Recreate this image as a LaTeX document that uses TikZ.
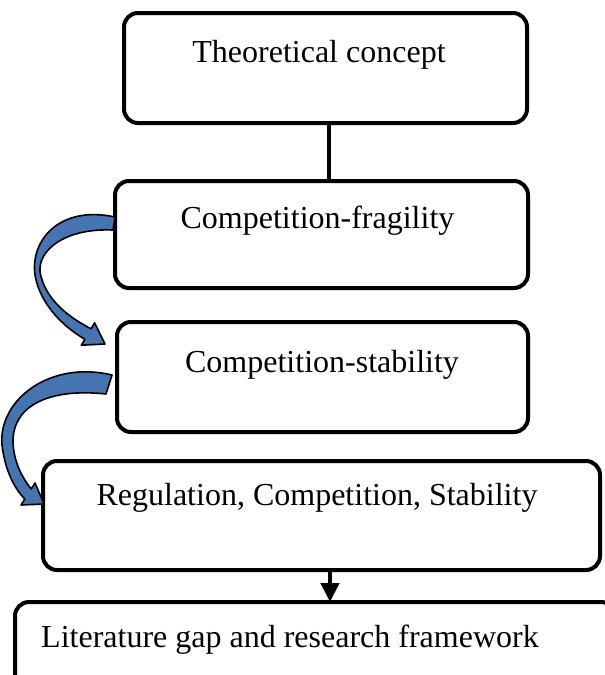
\documentclass[tikz,border=0pt]{standalone}
\usepackage{fontspec}
\setmainfont{Liberation Serif}
\usetikzlibrary{arrows.meta,calc}
\definecolor{arrowblue}{RGB}{70,116,176}
\tikzset{
  box/.style={draw=black, line width=4pt, rounded corners=14pt, inner sep=0pt, outer sep=0pt, fill=white},
  lbl/.style={anchor=base, inner sep=0pt, font=\fontsize{32}{38}\selectfont},
  conn/.style={draw=black, line width=4.5pt},
  curvearrow/.style={draw=black, line width=1.6pt, fill=arrowblue, line join=round}
}
\begin{document}
\begin{tikzpicture}[x=1pt,y=-1pt]
\useasboundingbox (0,0) rectangle (605,675);
\clip (0,0) rectangle (605,675);
% boxes
\node[box, minimum width=403pt, minimum height=110pt] (A) at (325.5,68) {};
\node[box, minimum width=413pt, minimum height=107pt] (B) at (321.5,234.5) {};
\node[box, minimum width=411pt, minimum height=110pt] (C) at (322.5,377) {};
\node[box, minimum width=557pt, minimum height=109pt] (D) at (321.5,515.5) {};
\node[box, minimum width=600pt, minimum height=108pt] (E) at (315,656) {};
% texts
\node[lbl] (tA) at (319,62) {Theoretical concept};
\node[lbl] (tB) at (317.5,228) {Competition-fragility};
\node[lbl] (tC) at (322,372) {Competition-stability};
\node[lbl] (tD) at (317,505) {Regulation, Competition, Stability};
\node[lbl, anchor=base west] (tE) at (41,647) {Literature gap and research framework};
% straight connectors
\draw[conn] ([xshift=3.5pt]A.south) -- ([xshift=3.5pt]A.south |- B.north);
\draw[conn, -{Triangle[width=18pt,length=19pt]}] ([xshift=8.5pt]D.south) -- ([xshift=8.5pt]D.south |- E.north);
% curved arrow B -> C
\draw[curvearrow] (115,217) .. controls (60,205) and (30,240) .. (35,275)
  .. controls (40,305) and (65,328) .. (84.9,339.2)
  -- (81.4,345.2) -- (105,344) -- (94.6,322.8) -- (91.1,328.8)
  .. controls (70,318) and (45,300) .. (40,272)
  .. controls (38,250) and (65,228) .. (113,230) -- cycle;
% curved arrow C -> D
\draw[curvearrow] (112,375) .. controls (50,360) and (-2,400) .. (2,445)
  .. controls (5,470) and (14,488) .. (24.8,499)
  -- (21,505) -- (44,504) -- (35,483) -- (31.2,489)
  .. controls (20,475) and (13,458) .. (13,440)
  .. controls (14,405) and (50,388) .. (106,394) -- cycle;
\end{tikzpicture}
\end{document}
